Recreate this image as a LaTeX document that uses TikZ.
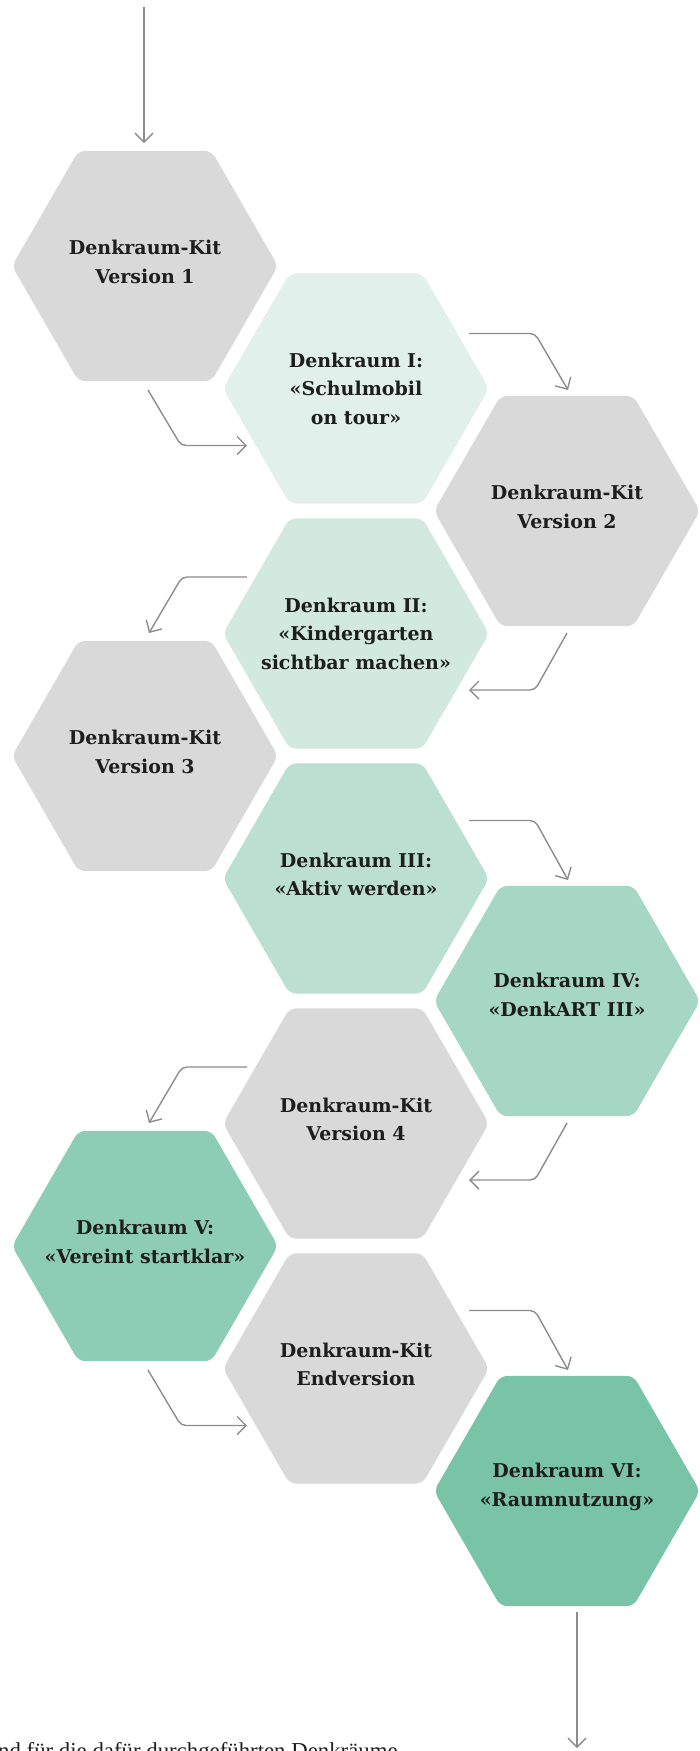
\documentclass[tikz,border=0pt]{standalone}
\usepackage{fontspec}
\setmainfont{DejaVu Serif}
\newfontfamily\footfont{Liberation Serif}
\usetikzlibrary{shapes.geometric,arrows.meta,calc}
\definecolor{hexgray}{HTML}{D9D9D9}
\definecolor{mintA}{HTML}{E2F0EB}
\definecolor{mintB}{HTML}{D2E9DF}
\definecolor{mintC}{HTML}{BBDFD1}
\definecolor{mintD}{HTML}{A6D6C4}
\definecolor{mintE}{HTML}{8ECDB5}
\definecolor{mintF}{HTML}{79C3A6}
\definecolor{linec}{HTML}{8C8C8C}
\definecolor{textc}{HTML}{1E1E1E}
\begin{document}
\begin{tikzpicture}[x=1pt,y=-1pt,
  hexa/.style={regular polygon, regular polygon sides=6, minimum size=266pt,
    inner sep=0pt, rounded corners=7pt, fill=#1, draw=none},
  lbl/.style={font=\bfseries\fontsize{19}{28.5}\selectfont, align=center,
    text=textc, inner sep=0pt},
  conn/.style={draw=linec, line width=1.4pt, rounded corners=5pt,
    -{Straight Barb[length=9pt,width=18pt,line width=1.4pt]}}]
\useasboundingbox (0,0) rectangle (700,1751);
\clip (0,0) rectangle (700,1751);
% hexagons
\node[hexa=hexgray] (v1)  at (145,266)    {};
\node[hexa=mintA]   (d1)  at (356,388.5)  {};
\node[hexa=hexgray] (v2)  at (567,511)    {};
\node[hexa=mintB]   (d2)  at (356,633.5)  {};
\node[hexa=hexgray] (v3)  at (145,756)    {};
\node[hexa=mintC]   (d3)  at (356,878.5)  {};
\node[hexa=mintD]   (d4)  at (567,1001)   {};
\node[hexa=hexgray] (v4)  at (356,1123.5) {};
\node[hexa=mintE]   (d5)  at (145,1246)   {};
\node[hexa=hexgray] (v5)  at (356,1368.5) {};
\node[hexa=mintF]   (d6)  at (567,1491)   {};
% labels
\node[lbl, yshift=4pt] (t1)  at (v1) {Denkraum-Kit\\Version 1};
\node[lbl]             (t2)  at (d1) {Denkraum I:\\«Schulmobil\\on tour»};
\node[lbl, yshift=4pt] (t3)  at (v2) {Denkraum-Kit\\Version 2};
\node[lbl]             (t4)  at (d2) {Denkraum II:\\«Kindergarten\\sichtbar machen»};
\node[lbl, yshift=4pt] (t5)  at (v3) {Denkraum-Kit\\Version 3};
\node[lbl, yshift=4pt] (t6)  at (d3) {Denkraum III:\\«Aktiv werden»};
\node[lbl, yshift=6pt] (t7)  at (d4) {Denkraum IV:\\«DenkART III»};
\node[lbl, yshift=4pt] (t8)  at (v4) {Denkraum-Kit\\Version 4};
\node[lbl, yshift=4pt] (t9)  at (d5) {Denkraum V:\\«Vereint startklar»};
\node[lbl, yshift=4pt] (t10) at (v5) {Denkraum-Kit\\Endversion};
\node[lbl, yshift=4pt] (t11) at (d6) {Denkraum VI:\\«Raumnutzung»};
% free ends
\coordinate (top) at ($(v1)+(-1,-259)$);
\coordinate (bot) at ($(d6)+(10,257)$);
% connectors
\draw[conn] (top) -- ($(v1)+(-1,-123)$);
\draw[conn] ($(v1)+(3,124)$) -- ($(d1)+(-175,57)$) -- ($(d1)+(-109,57)$);
\draw[conn] ($(d1)+(113,-55)$) -- ($(v2)+(-32,-177.5)$) -- ($(v2)+(1,-121)$);
\draw[conn] ($(v2)+(0,122)$) -- ($(d2)+(179,56.5)$) -- ($(d2)+(113,56.5)$);
\draw[conn] ($(d2)+(-109,-56.5)$) -- ($(v3)+(37,-179)$) -- ($(v3)+(4,-123)$);
\draw[conn] ($(d3)+(113,-58)$) -- ($(d4)+(-32,-180.5)$) -- ($(d4)+(1,-121)$);
\draw[conn] ($(d4)+(0,122)$) -- ($(v4)+(179,56.5)$) -- ($(v4)+(113,56.5)$);
\draw[conn] ($(v4)+(-109,-56.5)$) -- ($(d5)+(37,-179)$) -- ($(d5)+(4,-123)$);
\draw[conn] ($(d5)+(3,124)$) -- ($(v5)+(-175,57)$) -- ($(v5)+(-109,57)$);
\draw[conn] ($(v5)+(113,-58)$) -- ($(d6)+(-32,-180.5)$) -- ($(d6)+(1,-121)$);
\draw[conn] ($(d6)+(10,121)$) -- (bot);
% cut-off footer text
\node[anchor=base west, inner sep=0pt, font=\footfont\fontsize{22.8}{22.8}\selectfont, text=textc]
  (foot) at (-2,1758) {nd für die dafür durchgeführten Denkräume};
\end{tikzpicture}
\end{document}
